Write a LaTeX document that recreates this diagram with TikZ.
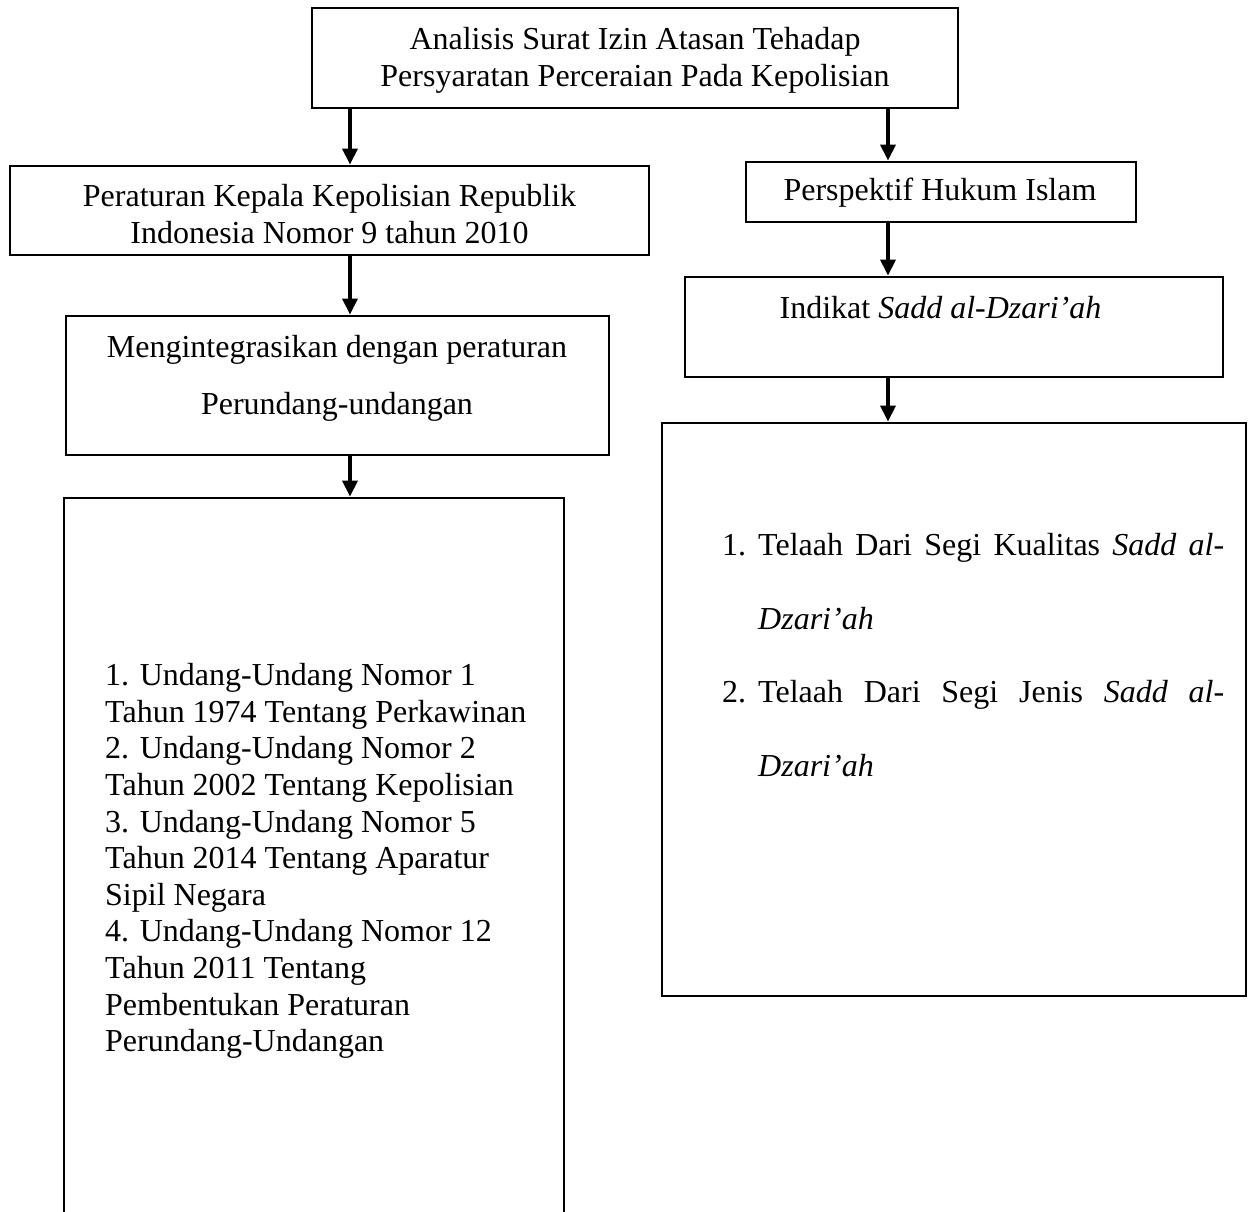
\documentclass[tikz,border=0pt]{standalone}
\usepackage{fontspec}
\setmainfont{Liberation Serif}
\usetikzlibrary{arrows.meta}
\begin{document}
\begin{tikzpicture}[x=1pt,y=-1pt,
  box/.style={draw, line width=2.8pt, inner sep=0pt, align=center, font=\fontsize{32}{37}\selectfont},
  lbl/.style={inner sep=0pt, font=\fontsize{32}{37}\selectfont},
  arr/.style={line width=3.4pt, -{Triangle[length=16pt,width=15pt]}}]
\fill[white] (0,0) rectangle (1248,1212);
\useasboundingbox (0,0) rectangle (1248,1212);
% boxes
\node[box, minimum width=646pt, minimum height=100pt] (top) at (635,58) {};
\node[lbl, align=center] (toptext) at (635,60) {Analisis Surat Izin Atasan Tehadap\\Persyaratan Perceraian Pada Kepolisian};
\node[box, minimum width=639pt, minimum height=89pt] (reg) at (329.5,210.5) {};
\node[lbl, align=center] (regtext) at (329.5,214) {Peraturan Kepala Kepolisian Republik\\Indonesia Nomor 9 tahun 2010};
\node[box, minimum width=390pt, minimum height=60pt] (islam) at (941,192) {};
\node[lbl] (islamtext) at (940,193) {Perspektif Hukum Islam};
\node[box, minimum width=543pt, minimum height=139pt] (integ) at (337.5,385.5) {};
\node[lbl, align=center, font=\fontsize{32}{57}\selectfont] (integtext) at (337,378) {Mengintegrasikan dengan peraturan\\Perundang-undangan};
\node[box, minimum width=538pt, minimum height=100pt] (indikat) at (954,327) {};
\node[lbl] (indtext) at (940.5,308) {Indikat \textit{Sadd al-Dzari’ah}};
\node[box, minimum width=584pt, minimum height=573pt] (rlist) at (954,709.5) {};
\node[lbl, anchor=west] (rtext) at (722,655) {\parbox{502pt}{\fontsize{32}{73.5}\selectfont
\hangindent=36pt\hangafter=1\noindent\makebox[36pt][l]{1.}Telaah Dari Segi Kualitas \textit{Sadd al-\linebreak Dzari’ah}\par
\hangindent=36pt\hangafter=1\noindent\makebox[36pt][l]{2.}Telaah Dari Segi Jenis \textit{Sadd al-\linebreak Dzari’ah}\par}};
\node[box, minimum width=500pt, minimum height=740pt] (llist) at (314,868) {};
\node[lbl, anchor=west, align=left, font=\fontsize{32}{36.6}\selectfont] (ltext) at (105,861) {1. Undang-Undang Nomor 1\\Tahun 1974 Tentang Perkawinan\\2. Undang-Undang Nomor 2\\Tahun 2002 Tentang Kepolisian\\3. Undang-Undang Nomor 5\\Tahun 2014 Tentang Aparatur\\Sipil Negara\\4. Undang-Undang Nomor 12\\Tahun 2011 Tentang\\Pembentukan Peraturan\\Perundang-Undangan};
% connectors
\coordinate (xl) at (350,0);
\coordinate (xr) at (888,0);
\draw[arr] (top.south -| xl) -- (reg.north -| xl);
\draw[arr] (top.south -| xr) -- (islam.north -| xr);
\draw[arr] (reg.south -| xl) -- (integ.north -| xl);
\draw[arr] (islam.south -| xr) -- (indikat.north -| xr);
\draw[arr] (integ.south -| xl) -- (llist.north -| xl);
\draw[arr] (indikat.south -| xr) -- (rlist.north -| xr);
\end{tikzpicture}
\end{document}
